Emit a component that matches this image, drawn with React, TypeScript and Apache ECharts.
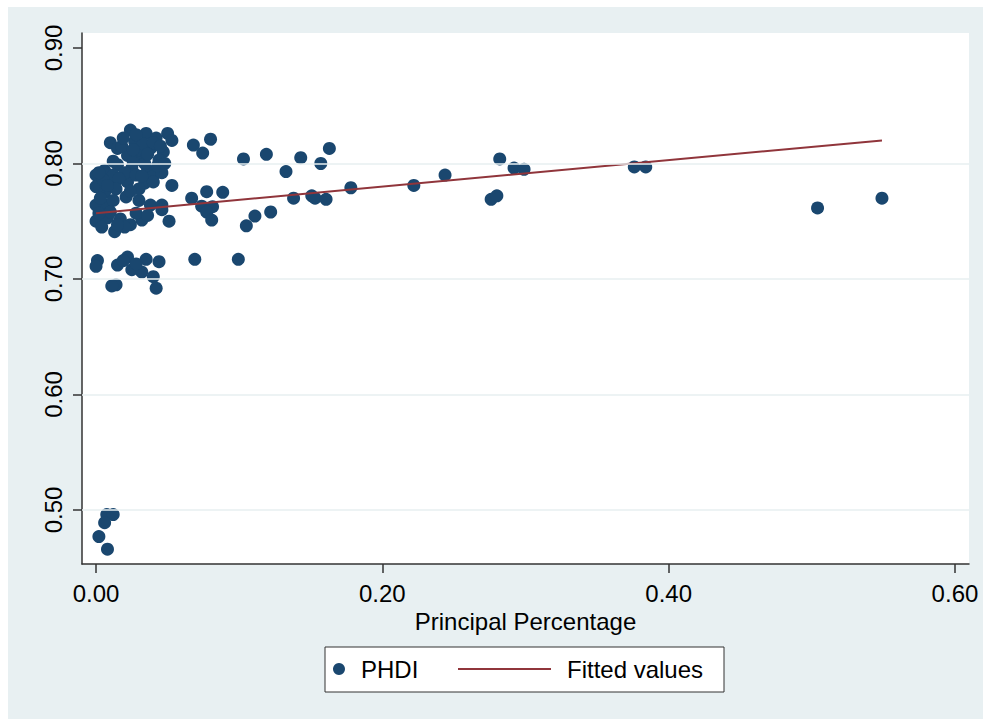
import React, { useEffect, useRef } from "react";
import * as echarts from "echarts";

// Principal Percentage (x) and PHDI (y) for each observation
const principalPct = [
  0.024, 0.035, 0.050, 0.053, 0.010, 0.015, 0.027, 0.042, 0.038, 0.047,
  0.022, 0.031, 0.044, 0.015, 0.006, 0.000, 0.025, 0.036, 0.040, 0.046,
  0.000, 0.010, 0.022, 0.034, 0.053, 0.006, 0.000, 0.021, 0.030, 0.038,
  0.046, 0.008, 0.018, 0.030, 0.026, 0.033, 0.040, 0.020, 0.012, 0.028,
  0.043, 0.005, 0.016, 0.030, 0.014, 0.024, 0.003, 0.012, 0.040, 0.048,
  0.019, 0.028, 0.045, 0.034, 0.002, 0.008, 0.026, 0.036, 0.012, 0.032,
  0.000, 0.008, 0.013, 0.024, 0.032, 0.051, 0.046, 0.004, 0.010, 0.017,
  0.028, 0.020, 0.036, 0.002, 0.015,
  0.001, 0.000, 0.015, 0.022, 0.025, 0.035, 0.044, 0.032, 0.040, 0.014,
  0.042, 0.011, 0.019, 0.028,
  0.0075, 0.012, 0.006, 0.002, 0.008,
  0.068, 0.080, 0.0745, 0.103, 0.119, 0.143, 0.163, 0.157, 0.1327, 0.0668,
  0.0773, 0.0885, 0.0738, 0.0814, 0.0773, 0.0808, 0.111, 0.105, 0.122, 0.138,
  0.1507, 0.153, 0.1607, 0.069, 0.0994,
  0.178, 0.222, 0.2438, 0.282, 0.292, 0.299, 0.276, 0.280, 0.376, 0.384,
  0.504, 0.549,
];

const phdi = [
  0.829, 0.826, 0.826, 0.820, 0.818, 0.813, 0.819, 0.822, 0.813, 0.810,
  0.807, 0.805, 0.803, 0.799, 0.794, 0.790, 0.796, 0.794, 0.789, 0.792,
  0.780, 0.784, 0.784, 0.783, 0.781, 0.775, 0.764, 0.771, 0.768, 0.764,
  0.764, 0.764, 0.815, 0.812, 0.801, 0.817, 0.818, 0.792, 0.790, 0.790,
  0.798, 0.786, 0.787, 0.778, 0.778, 0.776, 0.770, 0.768, 0.784, 0.800,
  0.822, 0.825, 0.815, 0.800, 0.792, 0.781, 0.812, 0.808, 0.802, 0.789,
  0.750, 0.753, 0.741, 0.747, 0.751, 0.750, 0.760, 0.745, 0.758, 0.752,
  0.757, 0.745, 0.755, 0.757, 0.747,
  0.716, 0.711, 0.712, 0.719, 0.708, 0.717, 0.715, 0.706, 0.702, 0.695,
  0.692, 0.694, 0.716, 0.713,
  0.496, 0.496, 0.489, 0.477, 0.466,
  0.816, 0.821, 0.809, 0.804, 0.808, 0.805, 0.813, 0.800, 0.793, 0.770,
  0.7756, 0.775, 0.763, 0.7626, 0.758, 0.751, 0.7545, 0.746, 0.758, 0.770,
  0.772, 0.770, 0.769, 0.717, 0.717,
  0.779, 0.781, 0.790, 0.804, 0.796, 0.795, 0.769, 0.772, 0.797, 0.797,
  0.7615, 0.770,
];

// Fitted values (linear fit) endpoints
const fittedX = [0.0, 0.549];
const fittedY = [0.757, 0.820];

// Axis ticks
const xTicks = [0.0, 0.2, 0.4, 0.6];
const yTicks = [0.5, 0.6, 0.7, 0.8, 0.9];
const yGridValues = [0.5, 0.6, 0.7, 0.8];

const FONT = "'Liberation Sans', Arial, Helvetica, sans-serif";
const NAVY = "#1a476f";
const MAROON = "#90353b";
const AXIS = "#333333";

export default function App() {
  const ref = useRef<HTMLDivElement>(null);

  useEffect(() => {
    if (!ref.current) return;
    const chart = echarts.init(ref.current, undefined, { renderer: "svg" });

    const scatterData = principalPct.map((x, i) => [x, phdi[i]]);
    const fitData = fittedX.map((x, i) => [x, fittedY[i]]);

    chart.setOption({
      animation: false,
      backgroundColor: "transparent",
      textStyle: { fontFamily: FONT },
      grid: {
        left: 82,
        top: 33,
        right: 14,
        bottom: 155,
        show: true,
        backgroundColor: "#ffffff",
        borderWidth: 0,
        containLabel: false,
      },
      xAxis: {
        type: "value",
        min: -0.0098,
        max: 0.6098,
        name: "Principal Percentage",
        nameLocation: "middle",
        nameGap: 40,
        nameTextStyle: { fontSize: 24, color: "#000", fontFamily: FONT },
        axisLine: { show: true, onZero: false, lineStyle: { color: AXIS, width: 1.5 } },
        axisTick: {
          show: true,
          length: 9,
          customValues: xTicks,
          lineStyle: { color: AXIS, width: 1.5 },
        },
        axisLabel: {
          show: true,
          customValues: xTicks,
          margin: 17,
          fontSize: 24,
          color: "#000",
          fontFamily: FONT,
          formatter: (v: number) => v.toFixed(2),
        },
        splitLine: { show: false },
      },
      yAxis: {
        type: "value",
        min: 0.4532,
        max: 0.913,
        axisLine: { show: true, onZero: false, lineStyle: { color: AXIS, width: 1.5 } },
        axisTick: {
          show: true,
          length: 9,
          customValues: yTicks,
          lineStyle: { color: AXIS, width: 1.5 },
        },
        axisLabel: {
          show: true,
          customValues: yTicks,
          rotate: 90,
          margin: 17,
          fontSize: 24,
          color: "#000",
          fontFamily: FONT,
          formatter: (v: number) => v.toFixed(2),
        },
        splitLine: { show: false },
      },
      legend: [
        {
          data: [{ name: "PHDI", icon: "circle" }],
          left: 333,
          top: 657,
          padding: 0,
          itemWidth: 12,
          itemHeight: 12,
          z: 10,
          textStyle: {
            fontSize: 24,
            lineHeight: 24,
            color: "#000",
            fontFamily: FONT,
            padding: [0, 0, 0, 11],
          },
          selectedMode: false,
        },
        {
          data: [{ name: "Fitted values", icon: "rect" }],
          left: 458,
          top: 657,
          padding: 0,
          itemWidth: 93,
          itemHeight: 2,
          z: 10,
          textStyle: {
            fontSize: 24,
            lineHeight: 24,
            color: "#000",
            fontFamily: FONT,
            padding: [0, 0, 0, 11],
          },
          selectedMode: false,
        },
      ],
      graphic: [
        {
          type: "rect",
          z: 1,
          shape: { x: 325, y: 647, width: 399, height: 45 },
          style: { fill: "#ffffff", stroke: "#333333", lineWidth: 1 },
        },
      ],
      series: [
        {
          name: "grid",
          type: "line",
          data: [],
          z: 1,
          silent: true,
          markLine: {
            silent: true,
            symbol: "none",
            label: { show: false },
            lineStyle: { color: "#e7eff1", width: 1.5, type: "solid" },
            data: yGridValues.map((v) => ({ yAxis: v })),
          },
        },
        {
          name: "PHDI",
          type: "scatter",
          data: scatterData,
          symbol: "circle",
          symbolSize: 13,
          z: 3,
          itemStyle: { color: NAVY, opacity: 1 },
        },
        {
          name: "Fitted values",
          type: "line",
          data: fitData,
          symbol: "none",
          showSymbol: false,
          z: 4,
          lineStyle: { color: MAROON, width: 2 },
          itemStyle: { color: MAROON },
        },
      ],
    });

    return () => chart.dispose();
  }, []);

  return (
    <div style={{ position: "absolute", left: 0, top: 0, width: 983, height: 719 }}>
      <div
        style={{
          position: "absolute",
          left: 8,
          top: 7,
          width: 975,
          height: 712,
          background: "#e8f0f2",
        }}
      />
      <div
        ref={ref}
        style={{ position: "absolute", left: 0, top: 0, width: 983, height: 719 }}
      />
    </div>
  );
}
